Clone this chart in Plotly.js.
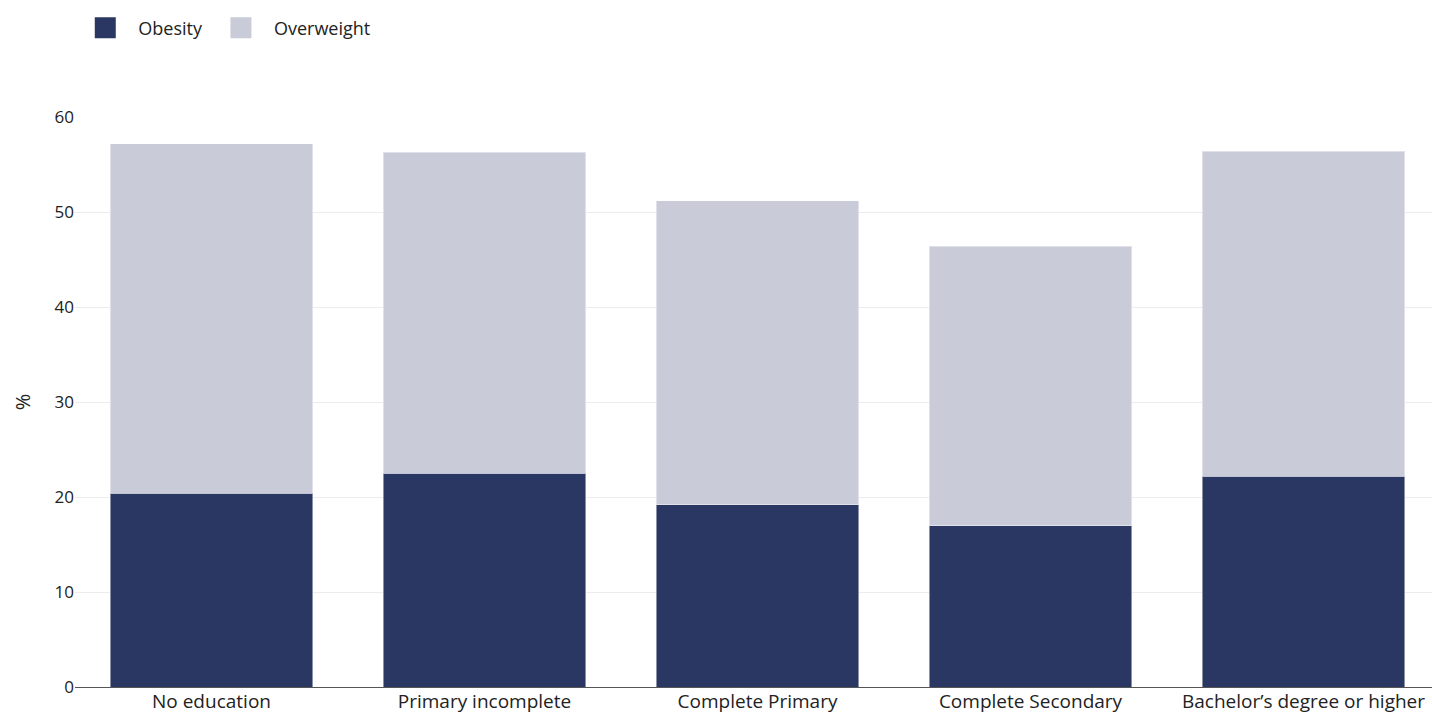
<!DOCTYPE html>
<html>
<head>
<meta charset="utf-8">
<script src="https://cdn.plot.ly/plotly-3.0.1.min.js"></script>
<style>
html,body{margin:0;padding:0;overflow:hidden;background:#fff;}
#chart{width:1440px;height:713px;}
</style>
</head>
<body>
<div id="chart"></div>
<script>
var categories = ["No education", "Primary incomplete", "Complete Primary", "Complete Secondary", "Bachelor\u2019s degree or higher"];
var obesity = [20.4, 22.5, 19.2, 17.0, 22.2];
var overweight = [36.8, 33.8, 32.0, 29.4, 34.2];
var yTicks = [0, 10, 20, 30, 40, 50, 60];

var cOb = "#2b3763";
var cOw = "#c9cbd8";
var font = "'Open Sans', 'Noto Sans', sans-serif";

var traces = [
  {type: "bar", name: "Obesity", x: categories, y: obesity, marker: {color: cOb, line: {color: "rgba(255,255,255,0.45)", width: 1}}, showlegend: false, hoverinfo: "x+y+name"},
  {type: "bar", name: "Overweight", x: categories, y: overweight, marker: {color: cOw, line: {color: "rgba(255,255,255,0.45)", width: 1}}, showlegend: false, hoverinfo: "x+y+name"},
  {type: "scatter", mode: "markers", name: "Obesity", x: [null], y: [null], marker: {symbol: "square", size: 16, color: cOb, line: {color: cOb, width: 5}}, showlegend: true, hoverinfo: "skip"},
  {type: "scatter", mode: "markers", name: "Overweight", x: [null], y: [null], marker: {symbol: "square", size: 16, color: cOw, line: {color: cOw, width: 5}}, showlegend: true, hoverinfo: "skip"}
];

var layout = {
  width: 1440,
  height: 713,
  margin: {l: 75, r: 0, t: 117, b: 26},
  barmode: "stack",
  bargap: 0.26,
  paper_bgcolor: "#fff",
  plot_bgcolor: "#fff",
  font: {family: font, size: 17, color: "#222"},
  showlegend: true,
  legend: {
    orientation: "h",
    x: -0.002, xref: "paper", xanchor: "left",
    y: 1.156, yref: "paper", yanchor: "middle",
    itemwidth: 56,
    font: {family: font, size: 18, color: "#222"},
    traceorder: "normal"
  },
  xaxis: {
    type: "category",
    tickvals: categories,
    showgrid: false,
    showline: true,
    linecolor: "#555",
    linewidth: 1,
    ticks: "",
    ticklabelstandoff: -3,
    tickfont: {family: font, size: 19, color: "#222"},
    fixedrange: true
  },
  yaxis: {
    range: [0, 60],
    tickvals: yTicks,
    showgrid: true,
    gridcolor: "#ececec",
    gridwidth: 1,
    zeroline: false,
    showline: false,
    ticks: "",
    ticklen: 0,
    tickfont: {family: font, size: 17, color: "#222"},
    title: {text: "%", font: {family: font, size: 20, color: "#222"}, standoff: 18},
    fixedrange: true
  }
};

Plotly.newPlot("chart", traces, layout, {displayModeBar: false, responsive: false});
</script>
</body>
</html>
